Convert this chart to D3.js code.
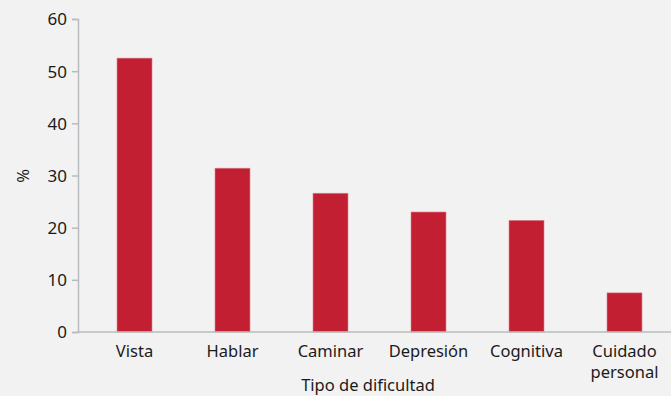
<!DOCTYPE html>
<html><head><meta charset="utf-8">
<script src="https://cdn.jsdelivr.net/npm/d3@7"></script>
<style>
body{margin:0;background:#f2f2f2;}
svg{display:block;font-family:"Noto Sans",sans-serif;}
</style></head>
<body><div id="chart"></div>
<script>
const categories = ["Vista","Hablar","Caminar","Depresión","Cognitiva","Cuidado personal"];
const values = [52.5, 31.4, 26.6, 23.0, 21.4, 7.5];
const yTicks = [0,10,20,30,40,50,60];
const xTitle = "Tipo de dificultad";
const yTitle = "%";

const W = 671, H = 396;
const svg = d3.select("#chart").append("svg").attr("width",W).attr("height",H);
svg.append("rect").attr("width",W).attr("height",H).attr("fill","#f2f2f2");

const axisX0 = 78, axisX1 = 671;
const y = d3.scaleLinear().domain([0,60]).range([332,19]);
const x = d3.scaleBand().domain(categories).range([85.5,673.5]).paddingInner(0.643).paddingOuter(0.3215);

const axisColor = "#b8bcbe";
const textColor = "#1a1a1a";
const fs = "16.5px";

// bars
svg.selectAll("rect.bar").data(values).enter().append("rect")
  .attr("class","bar")
  .attr("x",(d,i)=>x(categories[i]))
  .attr("width",x.bandwidth())
  .attr("y",d=>y(d))
  .attr("height",d=>y(0)-y(d))
  .attr("fill","#c22032")
  .attr("stroke","#dd7f8a").attr("stroke-width",0.6);

// y axis
const yAxis = d3.axisLeft(y).tickValues(yTicks).tickSize(6).tickPadding(5);
const gy = svg.append("g").attr("transform",`translate(${axisX0},0)`).call(yAxis);
gy.select(".domain").attr("stroke",axisColor).attr("stroke-width",1.5);
gy.selectAll(".tick line").attr("stroke",axisColor).attr("stroke-width",1.5);
gy.selectAll(".tick text").attr("fill",textColor).style("font-size","17px").style("font-family","'Noto Sans',sans-serif").attr("dy","0.35em");

// x axis
svg.append("line").attr("x1",axisX0).attr("x2",axisX1).attr("y1",y(0)).attr("y2",y(0))
  .attr("stroke",axisColor).attr("stroke-width",1.5);

const gx = svg.append("g");
categories.forEach(c=>{
  const words = c === "Cuidado personal" ? ["Cuidado","personal"] : [c];
  words.forEach((w,i)=>{
    gx.append("text").attr("x",x(c)+x.bandwidth()/2).attr("y",357 + i*21)
      .attr("text-anchor","middle").attr("fill",textColor).style("font-size",fs).text(w);
  });
});

svg.append("text").attr("x",368).attr("y",391).attr("text-anchor","middle")
  .attr("fill",textColor).style("font-size",fs).text(xTitle);

svg.append("text").attr("transform","translate(29,176) rotate(-90)").attr("text-anchor","middle")
  .attr("fill",textColor).style("font-size",fs).text(yTitle);
</script></body></html>
